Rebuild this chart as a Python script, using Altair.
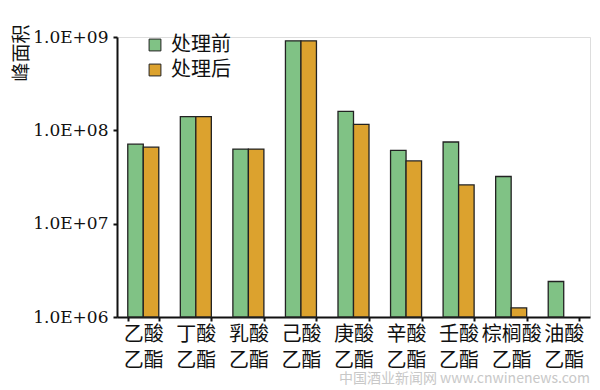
import altair as alt
import pandas as pd

categories = ["乙酸乙酯", "丁酸乙酯", "乳酸乙酯", "己酸乙酯", "庚酸乙酯",
              "辛酸乙酯", "壬酸乙酯", "棕榈酸乙酯", "油酸乙酯"]
before = [7.1e7, 1.4e8, 6.3e7, 9.1e8, 1.6e8, 6.1e7, 7.5e7, 3.2e7, 2.4e6]
after = [6.6e7, 1.4e8, 6.3e7, 9.1e8, 1.16e8, 4.7e7, 2.6e7, 1.25e6, None]
series = ["处理前", "处理后"]
colors = ["#80c285", "#dca22e"]
y_ticks = [1e6, 1e7, 1e8, 1e9]

rows = []
for c, b, a in zip(categories, before, after):
    if b is not None:
        rows.append({"cat": c, "grp": series[0], "val": b, "ord": 0})
    if a is not None:
        rows.append({"cat": c, "grp": series[1], "val": a, "ord": 1})
df = pd.DataFrame(rows)

cjk = "Noto Sans CJK SC"
serif = "DejaVu Serif"

bars = alt.Chart(df).mark_bar(stroke="#222222", strokeWidth=1.3).encode(
    x=alt.X("cat:N", sort=categories,
            scale=alt.Scale(paddingInner=0.41, paddingOuter=0.205),
            axis=alt.Axis(title=None, labelAngle=0, labelFont=cjk, labelFontSize=20,
                          labelColor="#111111", labelLineHeight=26, labelPadding=3,
                          labelExpr="[slice(datum.label, 0, -2), slice(datum.label, -2)]",
                          tickBand="extent", tickSize=4, tickWidth=2, tickColor="#111111",
                          domainColor="#111111", domainWidth=2)),
    xOffset=alt.XOffset("grp:N", sort=series),
    y=alt.Y("val:Q",
            scale=alt.Scale(type="log", domain=[1e6, 1e9], nice=False),
            axis=alt.Axis(title="峰面积", values=y_ticks,
                          labelExpr="'1.0E+0' + round(log(datum.value) / LN10)",
                          labelFont=serif, labelFontSize=17, labelColor="#111111",
                          labelPadding=5, tickSize=4, tickWidth=2, tickColor="#111111",
                          domainColor="#111111", domainWidth=2, grid=False,
                          titleFont=cjk, titleFontSize=19, titleFontWeight="normal",
                          titleColor="#111111", titleAngle=-90, titleAlign="right",
                          titleBaseline="middle", titleX=-96, titleY=-13)),
    y2=alt.datum(1e6),
    color=alt.Color("grp:N", sort=series,
                    scale=alt.Scale(domain=series, range=colors),
                    legend=alt.Legend(title=None, orient="none", legendX=28, legendY=-2,
                                      symbolType="square", symbolSize=140,
                                      symbolStrokeColor="#222222", symbolStrokeWidth=1,
                                      labelFont=cjk, labelFontSize=20, labelColor="#111111",
                                      labelOffset=6, rowPadding=5)),
    order=alt.Order("ord:Q"),
)

chart = bars.properties(
    width=473, height=280,
    autosize=alt.AutoSizeParams(type="none"),
    padding={"left": 109, "top": 29, "right": 2, "bottom": 72},
    title=alt.TitleParams("中国酒业新闻网  www.cnwinenews.com", orient="bottom",
                          anchor="end", font=cjk, fontSize=14, fontWeight="normal",
                          color="#c8c8c8", offset=2),
).configure_view(stroke=None).configure(background="white")

chart.save("out.html", embed_options={"renderer": "svg", "actions": False})
